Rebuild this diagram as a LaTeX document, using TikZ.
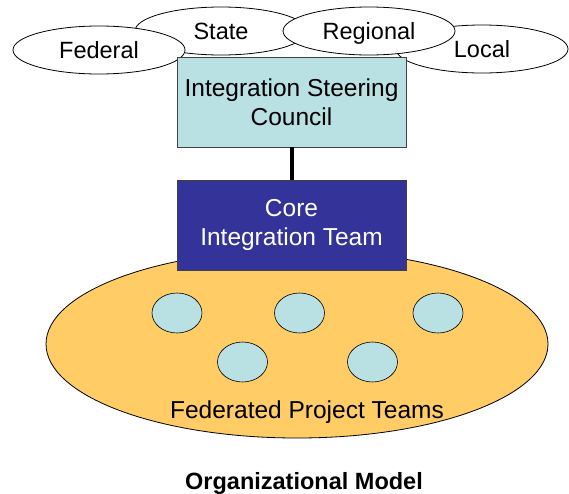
\documentclass[tikz,border=0pt]{standalone}
\usepackage{fontspec}
\setmainfont{Liberation Sans}
\usetikzlibrary{shapes.geometric}
\definecolor{councilblue}{HTML}{B9E0E3}
\definecolor{coreblue}{HTML}{333399}
\definecolor{teamorange}{HTML}{FFCC66}

\begin{document}
\begin{tikzpicture}[x=1pt, y=-1pt, font=\fontsize{24.5}{29}\selectfont,
    level/.style={ellipse, draw, line width=0.8pt, fill=white, inner sep=0pt, minimum width=172pt, minimum height=48pt, font=\fontsize{23.5}{28}\selectfont, text height=17pt, text depth=0pt},
    box/.style={draw=black!75, line width=0.8pt, minimum width=229pt, minimum height=90pt, align=center, inner sep=0pt},
    team/.style={ellipse, draw, line width=0.6pt, fill=councilblue, inner sep=0pt, minimum width=50pt, minimum height=40pt}]
        \useasboundingbox (0,0) rectangle (569,493);

        % levels of government
        \node[level] (state) at (221,31) {State};
        \node[level] (local) at (482,49) {Local};
        \node[level] (federal) at (99,50) {Federal};
        \node[level] (regional) at (369,31) {Regional};

        \node[ellipse, draw, line width=0.8pt, fill=teamorange, minimum width=502pt, minimum height=188pt] (teams) at (297,344) {};

        \node[box, fill=councilblue] (council) at (291.5,102) {Integration Steering\\Council};
        \node[box, fill=coreblue, text=white] (core) at (291.5,225) {Core\\Integration Team};
        \draw[line width=4pt] (council) -- (core);

        % project teams
        \foreach \name/\x/\y in {t1/177/313, t2/299.5/313, t3/438/313, t4/242.5/362, t5/372.5/362}
            \node[team] (\name) at (\x,\y) {};

        \node[text height=17.5pt, text depth=0pt] (teamslabel) at (307,410) {Federated Project Teams};
        \node[font=\fontsize{23.5}{28}\selectfont\bfseries, text height=17pt, text depth=0pt] (title) at (304,481) {Organizational Model};
\end{tikzpicture}
\end{document}
